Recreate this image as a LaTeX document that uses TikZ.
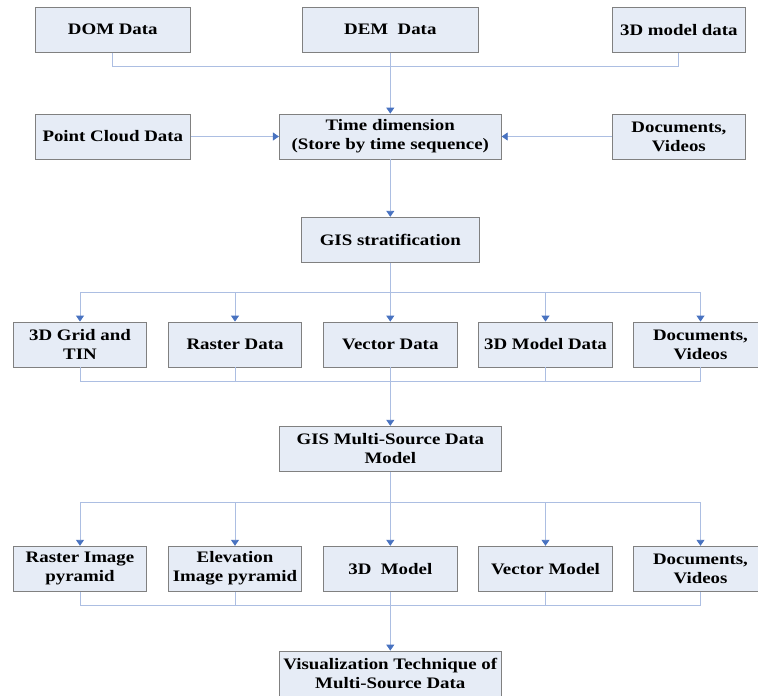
\documentclass[tikz,border=0pt]{standalone}
\usepackage{fontspec}
\setmainfont{Liberation Serif}[FakeStretch=1.18]
\usepackage{xcolor}
\definecolor{boxFill}{RGB}{230, 236, 246}
\definecolor{boxEdge}{RGB}{128, 128, 128}
\definecolor{linkLine}{RGB}{172, 190, 226}
\definecolor{linkTip}{RGB}{72, 114, 192}
\usepackage{tikz}
\usetikzlibrary{arrows.meta, positioning, calc}

\begin{document}
\begin{tikzpicture}[
    x=1pt, y=-1pt,
    dataBox/.style={
        rectangle, draw=boxEdge, line width=0.8pt,
        fill=boxFill, text=black,
        align=center, font=\fontsize{16}{19}\selectfont\bfseries,
        inner sep=1pt, minimum height=45pt
    },
    busLine/.style={
        line width=0.9pt, draw=linkLine
    },
    flowArrow/.style={
        -{Triangle[width=8pt, length=6pt, fill=linkTip, color=linkTip]},
        line width=0.9pt, draw=linkLine
    }
]
    % page frame
    \useasboundingbox (0,0) rectangle (758,696);
    \clip (0,0) rectangle (758,696);

    % Row 1: sources
    \node[dataBox, minimum width=155.7pt] (dom) at (112.8, 29.7) {DOM Data};
    \node[dataBox, minimum width=176.7pt] (dem) at (390.3, 29.7) {DEM~~Data};
    \node[dataBox, minimum width=133.7pt] (mdlData) at (678.9, 29.7) {3D model data};

    % Row 2: time dimension
    \node[dataBox, minimum width=155.7pt] (cloud) at (112.8, 136.5) {Point Cloud Data};
    \node[dataBox, minimum width=222pt] (timeDim) at (390.3, 136.5) {Time dimension\\(Store by time sequence)};
    \node[dataBox, minimum width=133.7pt] (docsTop) at (678.9, 136.5) {Documents,\\Videos};

    % Row 3: stratification
    \node[dataBox, minimum width=178.3pt] (strat) at (390.3, 239.7) {GIS stratification};

    % Row 4: layers
    \node[dataBox, minimum width=133.3pt] (grid) at (80, 344.5) {3D Grid and\\TIN};
    \node[dataBox, minimum width=133.3pt] (raster) at (235, 344.5) {Raster Data};
    \node[dataBox, minimum width=133.3pt] (vector) at (390.3, 344.5) {Vector Data};
    \node[dataBox, minimum width=133.3pt] (mdlLayer) at (545.5, 344.5) {3D Model Data};
    \node[dataBox, minimum width=133.3pt] (docsMid) at (700.5, 344.5) {Documents,\\Videos};

    % Row 5: data model
    \node[dataBox, minimum width=222pt] (multi) at (390.3, 448.7) {GIS Multi-Source Data\\Model};

    % Row 6: display products
    \node[dataBox, minimum width=133.3pt] (rasPyr) at (80, 568.7) {Raster Image\\pyramid};
    \node[dataBox, minimum width=133.3pt] (elevPyr) at (235, 568.7) {Elevation\\Image pyramid};
    \node[dataBox, minimum width=133.3pt] (model3d) at (390.3, 568.7) {3D~~Model};
    \node[dataBox, minimum width=133.3pt] (vecModel) at (545.5, 568.7) {Vector Model};
    \node[dataBox, minimum width=133.3pt] (docsLow) at (700.5, 568.7) {Documents,\\Videos};

    % Row 7: visualization
    \node[dataBox, minimum width=222pt] (visual) at (390.3, 673.5) {Visualization Technique of\\Multi-Source Data};

    % bus levels
    \coordinate (busA) at (0, 66.7);
    \coordinate (busB) at (0, 292.2);
    \coordinate (busC) at (0, 381);
    \coordinate (busD) at (0, 502.7);
    \coordinate (busE) at (0, 605.3);

    % Connectors: sources into time dimension
    \draw[busLine] (dom.south) |- (busA -| mdlData) -- (mdlData.south);
    \draw[flowArrow] (dem.south) -- (timeDim.north);
    \draw[flowArrow] (cloud) -- (timeDim);
    \draw[flowArrow] (docsTop) -- (timeDim);
    \draw[flowArrow] (timeDim) -- (strat);

    % stratification fans out to layers
    \draw[busLine] (strat.south) -- (strat.south |- busB);
    \draw[busLine] (busB -| grid) -- (busB -| docsMid);
    \foreach \n in {grid, raster, vector, mdlLayer, docsMid}
        \draw[flowArrow] (busB -| \n) -- (\n.north);

    % layers merge into data model
    \draw[busLine] (busC -| grid) -- (busC -| docsMid);
    \foreach \n in {grid, raster, vector, mdlLayer, docsMid}
        \draw[busLine] (\n.south) -- (busC -| \n);
    \draw[flowArrow] (busC -| multi) -- (multi.north);

    % data model fans out to products
    \draw[busLine] (multi.south) -- (multi.south |- busD);
    \draw[busLine] (busD -| rasPyr) -- (busD -| docsLow);
    \foreach \n in {rasPyr, elevPyr, model3d, vecModel, docsLow}
        \draw[flowArrow] (busD -| \n) -- (\n.north);

    % products merge into visualization
    \draw[busLine] (busE -| rasPyr) -- (busE -| docsLow);
    \foreach \n in {rasPyr, elevPyr, model3d, vecModel, docsLow}
        \draw[busLine] (\n.south) -- (busE -| \n);
    \draw[flowArrow] (busE -| visual) -- (visual.north);

\end{tikzpicture}
\end{document}
